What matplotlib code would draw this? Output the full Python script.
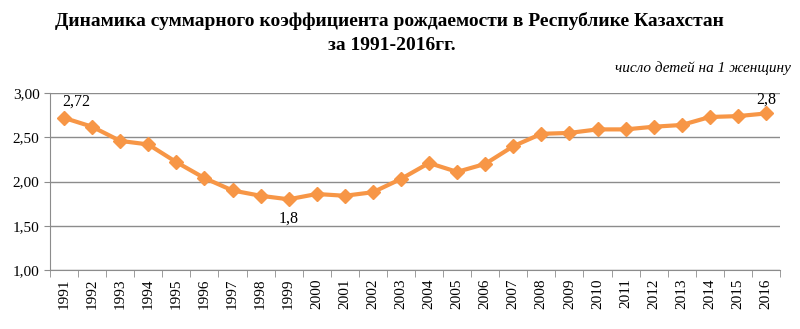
import matplotlib
matplotlib.use("Agg")
import matplotlib.pyplot as plt
import numpy as np

years = [str(y) for y in range(1991, 2017)]
tfr = [2.72, 2.62, 2.46, 2.42, 2.22, 2.04, 1.90, 1.84, 1.80, 1.86, 1.84, 1.88, 2.03,
       2.21, 2.11, 2.20, 2.40, 2.54, 2.55, 2.59, 2.59, 2.62, 2.64, 2.73, 2.74, 2.77]
labelled = {"1991": "2,72", "1999": "1,8", "2016": "2,8"}

plt.rcParams['font.family'] = ['Liberation Serif', 'DejaVu Serif']

fig = plt.figure(figsize=(8, 3.29), dpi=100)
ax = fig.add_axes([0.0625, 0.179, 0.9125, 0.538])

xs = np.arange(len(years))
ax.plot(xs, tfr, color="#F79646", linewidth=3, marker="D", markersize=7.5,
        markeredgecolor="#F79646", zorder=3)

# value labels on three points
for i, y in enumerate(years):
    if y in labelled:
        v = tfr[i]
        if y == "1999":
            ax.annotate(labelled[y], (i, v), xytext=(0, -8), textcoords="offset points",
                        ha="center", va="top", fontsize=11.5)
        elif y == "1991":
            ax.annotate(labelled[y], (i, v), xytext=(-1, 6), textcoords="offset points",
                        ha="left", va="bottom", fontsize=11.5)
        else:
            ax.annotate(labelled[y], (i, v), xytext=(0, 4), textcoords="offset points",
                        ha="center", va="bottom", fontsize=11.5)

ax.set_xlim(-0.5, len(years) - 0.5)
ax.set_ylim(1.0, 3.0)
yt = [1.0, 1.5, 2.0, 2.5, 3.0]
ax.set_yticks(yt)
ax.set_yticklabels([f"{v:.2f}".replace(".", ",") for v in yt], fontsize=11)
ax.yaxis.grid(True, color="#8c8c8c", linewidth=1)
ax.set_axisbelow(True)

ax.set_xticks(xs)
ax.set_xticklabels(years, rotation=90, fontsize=11)
ax.tick_params(axis="x", which="major", length=0, pad=6)
ax.set_xticks(np.arange(len(years) + 1) - 0.5, minor=True)
ax.tick_params(axis="x", which="minor", length=5, color="#8c8c8c")
ax.tick_params(axis="y", length=4, color="#8c8c8c")

for s in ["top", "right"]:
    ax.spines[s].set_visible(False)
for s in ["left", "bottom"]:
    ax.spines[s].set_color("#8c8c8c")

fig.text(0.487, 0.935, "Динамика суммарного коэффициента рождаемости в Республике Казахстан",
         ha="center", va="center", fontsize=14, fontweight="bold")
fig.text(0.49, 0.862, "за 1991-2016гг.", ha="center", va="center", fontsize=14, fontweight="bold")
fig.text(0.988, 0.793, "число детей на 1 женщину", ha="right", va="center",
         fontsize=11, style="italic")

fig.savefig("out.png", dpi=100)
